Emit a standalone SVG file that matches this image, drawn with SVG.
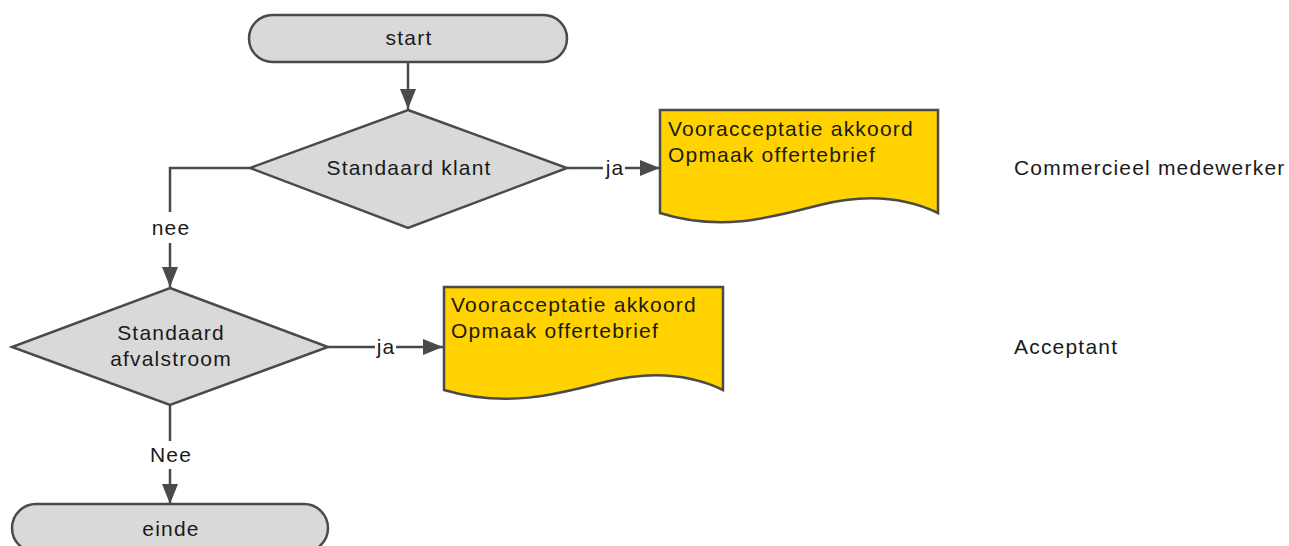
<svg xmlns="http://www.w3.org/2000/svg" width="1289" height="546" viewBox="0 0 1289 546">
<style>
.term{fill:#d9d9d9;stroke:#4a4a4a;stroke-width:2.5}
.dec{fill:#d9d9d9;stroke:#4a4a4a;stroke-width:2.5}
.doc{fill:#ffd200;stroke:#4a4a4a;stroke-width:2.5}
.edge{fill:none;stroke:#4a4a4a;stroke-width:2.5}
text{font-family:"Liberation Sans",Arial,sans-serif;font-size:21px;letter-spacing:1.2px;fill:#1a1a1a}
.c{text-anchor:middle}
</style>
<defs>
<marker id="ah" viewBox="0 0 20 20" refX="20" refY="10" markerWidth="20" markerHeight="20" markerUnits="userSpaceOnUse" orient="auto">
<path d="M0,2 L20,10 L0,18 z" fill="#4a4a4a"/>
</marker>
</defs>
<rect width="1289" height="546" fill="#ffffff"/>
<g id="connectors">
<path class="edge" d="M408,62 V109" marker-end="url(#ah)"/>
<path class="edge" d="M567,168 H603"/>
<path class="edge" d="M625,168 H660" marker-end="url(#ah)"/>
<path class="edge" d="M250,168 H170 V212"/>
<path class="edge" d="M170,243 V287" marker-end="url(#ah)"/>
<path class="edge" d="M328,347 H375"/>
<path class="edge" d="M396,347 H443" marker-end="url(#ah)"/>
<path class="edge" d="M170,405 V441"/>
<path class="edge" d="M170,469 V504" marker-end="url(#ah)"/>
<text class="c" x="615" y="175">ja</text>
<text class="c" x="386" y="354">ja</text>
<text class="c" x="171" y="235">nee</text>
<text class="c" x="171" y="462">Nee</text>
</g>
<g id="start">
<rect class="term" x="249" y="15" width="318" height="47" rx="23.5"/>
<text class="c" x="409" y="45">start</text>
</g>
<g id="standaard-klant">
<polygon class="dec" points="408,110 567,168 408,228 250,168"/>
<text class="c" x="409" y="175">Standaard klant</text>
</g>
<g id="doc1">
<path class="doc" d="M660,110 H938 V213 C900,195 860,195 820,205 C770,218 720,232 660,213 Z"/>
<text x="668" y="136">Vooracceptatie akkoord</text>
<text x="668" y="162">Opmaak offertebrief</text>
</g>
<g id="standaard-afvalstroom">
<polygon class="dec" points="170,288 328,347 170,405 12,347"/>
<text class="c" x="171" y="340">Standaard</text>
<text class="c" x="171" y="366">afvalstroom</text>
</g>
<g id="doc2">
<path class="doc" d="M444,287 H723 V390 C685,372 645,372 605,382 C555,395 505,408 444,390 Z"/>
<text x="451" y="312">Vooracceptatie akkoord</text>
<text x="451" y="338">Opmaak offertebrief</text>
</g>
<g id="einde">
<rect class="term" x="12" y="504" width="316" height="48" rx="24"/>
<text class="c" x="171" y="536">einde</text>
</g>
<g id="roles">
<text x="1014" y="175">Commercieel medewerker</text>
<text x="1014" y="354">Acceptant</text>
</g>
</svg>
